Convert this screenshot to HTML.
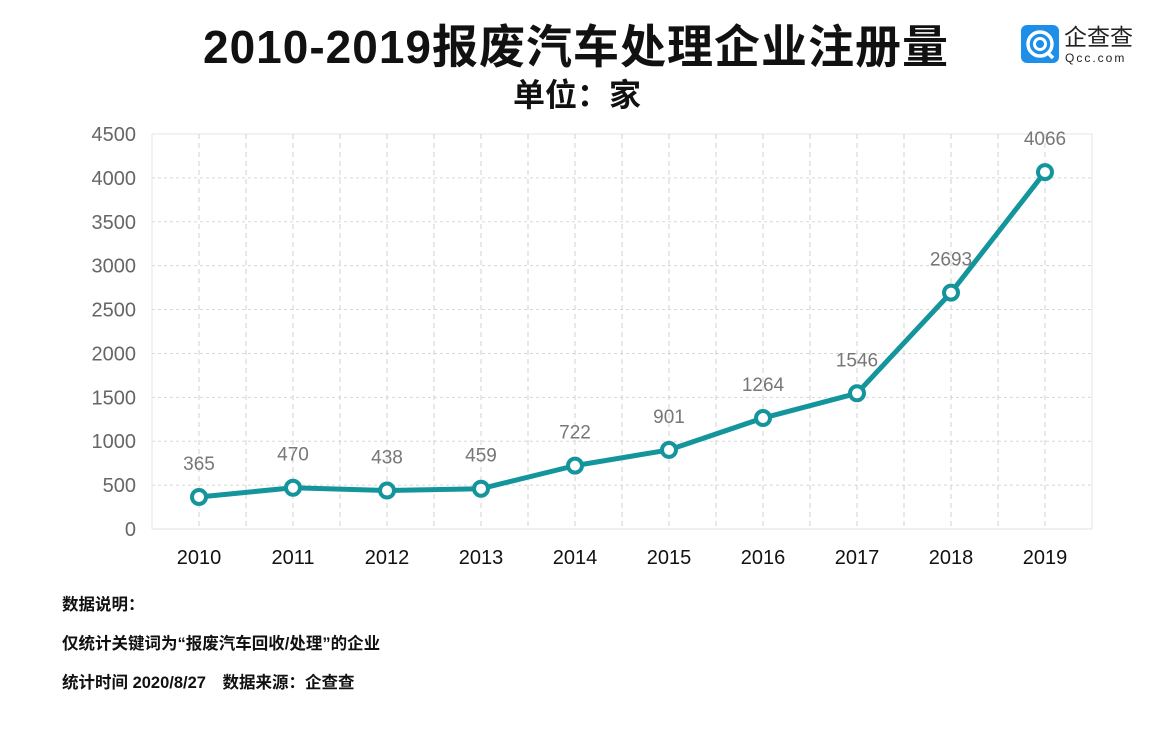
<!DOCTYPE html>
<html><head><meta charset="utf-8"><style>
body{margin:0;background:#fff;width:1174px;height:724px;overflow:hidden;font-family:"Liberation Sans","Noto Sans CJK SC",sans-serif}
</style></head><body>
<svg width="1174" height="724" xmlns="http://www.w3.org/2000/svg">
<text x="576" y="63" text-anchor="middle" font-size="46" font-weight="bold" fill="#111" letter-spacing="1" font-family="Liberation Sans,Noto Sans CJK SC,sans-serif">2010-2019报废汽车处理企业注册量</text>
<text x="577" y="106" text-anchor="middle" font-size="32" font-weight="bold" fill="#111" font-family="Liberation Sans,Noto Sans CJK SC,sans-serif">单位：家</text>
<g>
<rect x="1021" y="25" width="38" height="38" rx="6" fill="#1e8fe8"/>
<circle cx="1040" cy="44" r="12" fill="none" stroke="#fff" stroke-width="3.5"/>
<circle cx="1040" cy="44" r="5.5" fill="none" stroke="#fff" stroke-width="3"/>
<line x1="1047" y1="52" x2="1053" y2="58" stroke="#fff" stroke-width="3.5"/>
<text x="1064" y="45" font-size="23" fill="#222" font-family="Liberation Sans,Noto Sans CJK SC,sans-serif">企查查</text>
<text x="1065" y="62" font-size="12" fill="#222" letter-spacing="2">Qcc.com</text>
</g>
<g id="grid"></g>
<g id="yaxis"></g>
<g id="xaxis"></g>
<g id="series"></g>
<g font-size="16.5" font-weight="bold" fill="#111" font-family="Liberation Sans,Noto Sans CJK SC,sans-serif">
<text x="62" y="610">数据说明：</text>
<text x="62" y="649">仅统计关键词为“报废汽车回收/处理”的企业</text>
<text x="62" y="688">统计时间 2020/8/27　数据来源：企查查</text>
</g>
</svg>
<script>
const categories=["2010","2011","2012","2013","2014","2015","2016","2017","2018","2019"];
const values=[365,470,438,459,722,901,1264,1546,2693,4066];
const yTicks=[0,500,1000,1500,2000,2500,3000,3500,4000,4500];
const NS="http://www.w3.org/2000/svg";
const L=152,R=1092,T=134,B=529,yMax=4500;
const step=(R-L)/categories.length;
const xs=i=>L+step*(i+0.5);
const ys=v=>B-(v/yMax)*(B-T);
function mk(tag,attrs,parent){const e=document.createElementNS(NS,tag);for(const k in attrs)e.setAttribute(k,attrs[k]);parent.appendChild(e);return e;}
const grid=document.getElementById('grid'),ya=document.getElementById('yaxis'),xa=document.getElementById('xaxis'),se=document.getElementById('series');
yTicks.forEach(t=>{
  const y=ys(t);
  const gl=mk('line',{x1:L,x2:R,y1:y,y2:y,stroke:t===0?'#e0e0e0':'#d8d8d8','stroke-width':1,'stroke-dasharray':t===0?'':'3,3'},grid);
  
  
  const tx=mk('text',{x:136,y:y+7,'text-anchor':'end','font-size':20,fill:'#666'},ya);
  tx.textContent=t;
  
  
});
mk('line',{x1:L,x2:L,y1:T,y2:B,stroke:'#e6e6e6'},grid);
mk('line',{x1:R,x2:R,y1:T,y2:B,stroke:'#e6e6e6'},grid);
mk('line',{x1:L,x2:R,y1:T,y2:T,stroke:'#e6e6e6'},grid);
for(let i=1;i<categories.length;i++){
  const x=L+step*i;
  const gl=mk('line',{x1:x,x2:x,y1:T,y2:B,stroke:'#d0d0d0','stroke-dasharray':'5,4'},grid);
  
  
}
categories.forEach((c,i)=>{
  const x=xs(i);
  const gl=mk('line',{x1:x,x2:x,y1:T,y2:B,stroke:'#d0d0d0','stroke-dasharray':'5,4'},grid);
  
  
  const tx=mk('text',{x:x,y:564,'text-anchor':'middle','font-size':20,fill:'#111'},xa);
  tx.textContent=c;
  
  
});
const pl=mk('polyline',{points:values.map((v,i)=>xs(i)+','+ys(v)).join(' '),fill:'none',stroke:'#13959b','stroke-width':5,'stroke-linejoin':'round'},se);


values.forEach((v,i)=>{
  const c=mk('circle',{cx:xs(i),cy:ys(v),r:7,fill:'#fff',stroke:'#13959b','stroke-width':4},se);
  
  
  const t=mk('text',{x:xs(i),y:ys(v)-27,'text-anchor':'middle','font-size':19,fill:'#777'},se);
  t.textContent=v;
  
  
});
</script>
</body></html>
